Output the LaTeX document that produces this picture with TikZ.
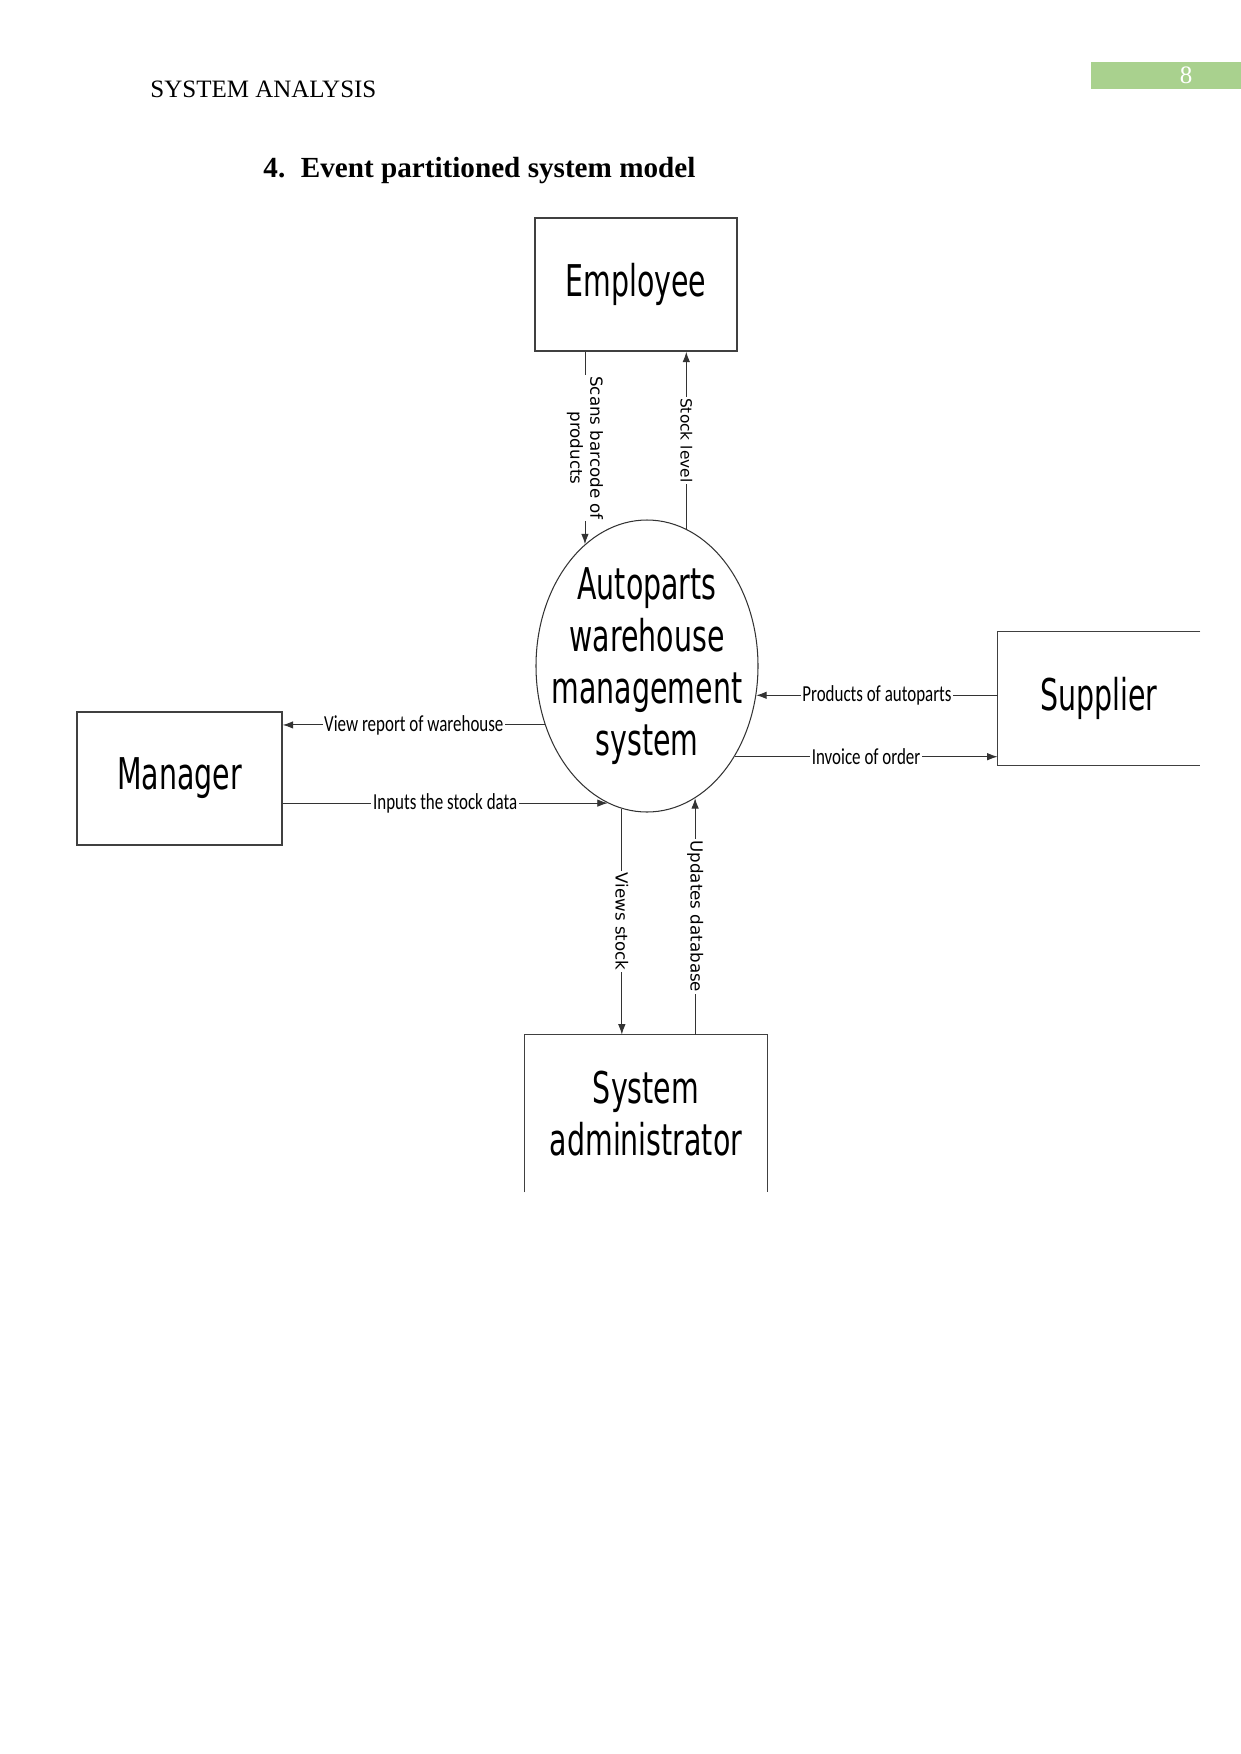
\documentclass[tikz,border=0pt]{standalone}
\usepackage{fontspec}
\setmainfont{Liberation Serif}
\newfontfamily\bigf{DejaVu Sans}[FakeStretch=0.65]
\newfontfamily\hlf{Carlito}[FakeStretch=0.74]
\newfontfamily\vlf{DejaVu Sans}
\usetikzlibrary{shapes.geometric,arrows.meta}
\definecolor{hdrgreen}{HTML}{A9D18E}
\begin{document}
\begin{tikzpicture}[x=0.48pt,y=-0.48pt,
  bigtext/.style={font=\bigf\fontsize{21}{25}\selectfont, align=center},
  entity/.style={rectangle, draw=black!75, line width=0.7pt, inner sep=0pt, bigtext},
  openent/.style={rectangle, inner sep=0pt, bigtext},
  boxline/.style={draw=black!75, line width=0.7pt},
  proc/.style={ellipse, draw=black!80, line width=0.5pt, inner sep=0pt,
    minimum width={222*0.48pt}, minimum height={292*0.48pt}},
  flow/.style={draw=black!80, line width=0.45pt, -{Latex[length=5pt,width=3.6pt]}},
  hlbl/.style={fill=white, inner sep=0.8pt, font=\hlf\fontsize{11}{13}\selectfont},
  vlbl/.style={fill=white, inner sep=0.8pt, rotate=-90, align=center,
    font=\vlf\fontsize{8}{9.5}\selectfont}]
\useasboundingbox (0,0) rectangle (1241,1754);

% header
\node[anchor=base west, inner sep=0pt, font=\fontsize{12}{14}\selectfont] (hdr) at (150,97) {SYSTEM ANALYSIS};
\fill[hdrgreen] (1091,62) rectangle (1241,89);
\node[text=white, font=\fontsize{12}{14}\selectfont] (pgnum) at (1186,75) {8};
\node[anchor=base west, inner sep=0pt, font=\bfseries\fontsize{14}{16}\selectfont] (ttl) at (263,177)
  {4.\hspace{7.5pt}Event partitioned system model};

% nodes
\node[entity, minimum width={202*0.48pt}, minimum height={133*0.48pt}] (emp) at (636,284.5) {Employee};
\node[proc, label={[bigtext]center:Autoparts\\warehouse\\management\\system}] (sys) at (647,666) {};
\node[entity, minimum width={205*0.48pt}, minimum height={133*0.48pt}] (man) at (179.5,778.5) {Manager};
\node[openent, minimum width={202*0.48pt}, minimum height={133*0.48pt}] (sup) at (1099,698.5) {Supplier};
\draw[boxline] (sup.north east) -- (sup.north west) -- (sup.south west) -- (sup.south east);
\node[openent, minimum width={242*0.48pt}, minimum height={157*0.48pt}] (adm) at (646,1113.5) {System\\administrator};
\draw[boxline] (adm.south west) -- (adm.north west) -- (adm.north east) -- (adm.south east);

% flows
\draw[flow] (emp.south -| sys.117) -- node[vlbl] {Scans barcode of\\products} (sys.117);
\draw[flow] (sys.74) -- node[vlbl, font=\vlf\fontsize{7.4}{9}\selectfont] {Stock level} (emp.south -| sys.74);
\draw[flow] (sup.west |- sys.-15) -- node[hlbl] {Products of autoparts} (sys.-15);
\draw[flow] (sys.-46) -- node[hlbl] {Invoice of order} (sup.west |- sys.-46);
\draw[flow] (sys.-150) -- node[hlbl] {View report of warehouse} (man.east |- sys.-150);
\draw[flow] (man.east |- sys.-106) -- node[hlbl] {Inputs the stock data} (sys.-106);
\draw[flow] (sys.-100) -- node[vlbl] {Views stock} (adm.north -| sys.-100);
\draw[flow] (adm.north -| sys.-70) -- node[vlbl] {Updates database} (sys.-70);
\end{tikzpicture}
\end{document}
